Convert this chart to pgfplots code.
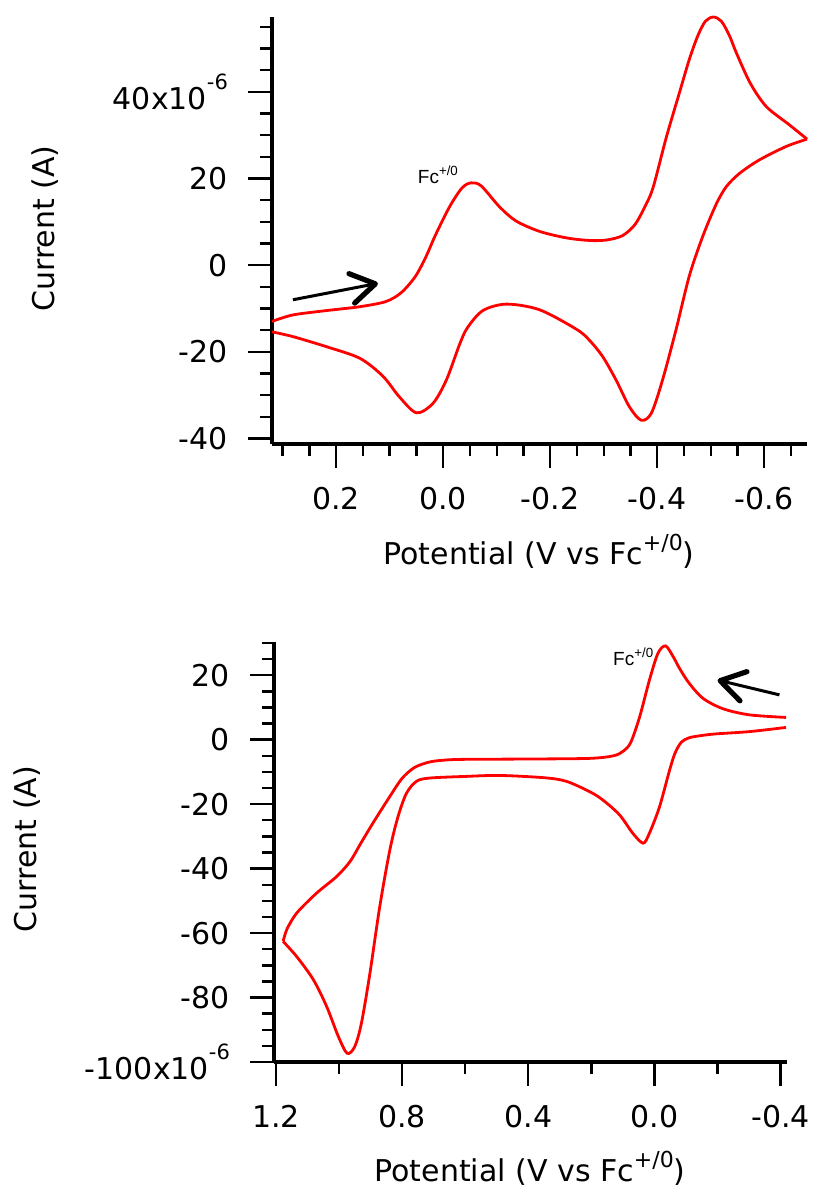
\documentclass[border=0pt]{standalone}
\usepackage{fontspec}
\setmainfont{DejaVu Sans}
\newfontfamily\fcfont{Liberation Sans}
\usepackage{pgfplots}
\pgfplotsset{compat=1.18}
\usetikzlibrary{arrows.meta}
\definecolor{cvred}{RGB}{255,0,0}
\newcommand{\sexp}{\raisebox{10pt}{\fontsize{10.5}{12}\selectfont -6}}
\newcommand{\fcsup}{\raisebox{7pt}{\fontsize{11}{12}\selectfont +/0}}
\pgfplotsset{cvstyle/.style={
  scale only axis,
  axis x line*=bottom, axis y line*=left,
  x dir=reverse,
  tick align=outside,
  axis line style={line width=1.6pt,-},
  every tick/.style={black, line width=1.2pt},
  major tick length=12pt, minor tick length=6pt,
  tick label style={font=\fontsize{15}{18}\selectfont},
  xticklabel style={yshift=-6pt},
  yticklabel style={xshift=-6.5pt},
  clip=false,
}}
\begin{document}
\begin{tikzpicture}
\path[use as bounding box] (0,0) rectangle (407pt,-596pt);
% ---------------- top panel ----------------
\begin{axis}[cvstyle,
  at={(136pt,-222pt)}, anchor=south west,
  width=267.5pt, height=213.5pt,
  xmin=-0.68, xmax=0.32, ymin=-41.3, ymax=57.3,
  xtick={0.2,0,-0.2,-0.4,-0.6},
  xticklabels={0.2,0.0,-0.2,-0.4,-0.6},
  minor xtick={0.3,0.25,0.15,0.1,0.05,-0.05,-0.1,-0.15,-0.25,-0.3,-0.35,-0.45,-0.5,-0.55,-0.65},
  ytick={-40,-20,0,20,40},
  yticklabels={-40,-20,0,20,40x10\sexp},
  minor ytick={-35,-30,-25,-15,-10,-5,5,10,15,25,30,35,45,50,55},
]
\addplot[cvred, line width=1.4pt, smooth] coordinates {
(0.320,-13.0) (0.281,-11.5) (0.219,-10.5) (0.156,-9.6) (0.107,-8.4) (0.078,-6.3)
(0.052,-2.6) (0.032,2.0) (0.015,6.8) (-0.012,13.5) (-0.035,17.8) (-0.052,19.0)
(-0.071,18.3) (-0.105,13.5) (-0.136,10.2) (-0.180,7.8) (-0.230,6.3) (-0.273,5.7)
(-0.305,5.8) (-0.335,6.8) (-0.358,9.3) (-0.375,13.0) (-0.392,17.8) (-0.417,29.5)
(-0.442,40.0) (-0.460,47.5) (-0.476,53.0) (-0.490,56.3) (-0.505,57.3) (-0.520,56.3)
(-0.535,53.0) (-0.548,49.0) (-0.574,42.0) (-0.604,36.6) (-0.647,32.4) (-0.680,29.1)
};
\addplot[cvred, line width=1.4pt, smooth] coordinates {
(-0.680,29.1) (-0.641,27.4) (-0.591,24.3) (-0.554,21.2) (-0.529,18.1) (-0.510,14.0)
(-0.485,6.6) (-0.460,-2.5) (-0.435,-15.0) (-0.410,-26.5) (-0.389,-34.2) (-0.370,-35.8)
(-0.348,-32.7) (-0.323,-26.5) (-0.298,-21.1) (-0.273,-17.3) (-0.249,-14.8) (-0.180,-10.3)
(-0.118,-9.0) (-0.074,-10.5) (-0.045,-14.5) (-0.030,-18.5) (-0.006,-26.5) (0.019,-31.9)
(0.050,-34.1) (0.082,-30.4) (0.113,-25.6) (0.156,-21.5) (0.219,-18.8) (0.281,-16.5)
(0.320,-15.4)
};
\draw[line width=1.5pt, -{Straight Barb[length=12pt,width=15pt,line width=2.6pt,round]}]
  (axis cs:0.281,-8.0) -- (axis cs:0.122,-4.2);
\node[font=\fcfont\fontsize{9.5}{11}\selectfont] at (axis cs:0.009,20.8) {Fc\textsuperscript{+/0}};
\end{axis}
% ---------------- bottom panel ----------------
\begin{axis}[cvstyle,
  at={(137pt,-531pt)}, anchor=south west,
  width=256.5pt, height=210pt,
  xmin=-0.42, xmax=1.206, ymin=-100, ymax=30.3,
  xtick={1.2,0.8,0.4,0,-0.4},
  xticklabels={1.2,0.8,0.4,0.0,-0.4},
  minor xtick={1.0,0.6,0.2,-0.2},
  ytick={-100,-80,-60,-40,-20,0,20},
  yticklabels={-100x10\sexp,-80,-60,-40,-20,0,20},
  minor ytick={-95,-90,-85,-75,-70,-65,-55,-50,-45,-35,-30,-25,-15,-10,-5,5,10,15,25,30},
]
\addplot[cvred, line width=1.4pt, smooth] coordinates {
(-0.417,6.9) (-0.301,7.7) (-0.217,9.6) (-0.154,12.8) (-0.110,17.5) (-0.080,22.0)
(-0.059,25.8) (-0.035,29.1) (-0.011,26.8) (0.016,18.5) (0.047,7.1) (0.075,-0.8)
(0.098,-3.5) (0.130,-5.0) (0.206,-5.8) (0.40,-6.0) (0.60,-6.1) (0.66,-6.3)
(0.712,-6.9) (0.760,-8.6) (0.800,-12.0) (0.840,-17.8) (0.890,-25.5) (0.930,-32.0)
(0.965,-37.8) (1.008,-42.5) (1.071,-47.6) (1.134,-53.8) (1.165,-58.8) (1.177,-62.6)
};
\addplot[cvred, line width=1.4pt, smooth] coordinates {
(1.177,-62.6) (1.134,-67.3) (1.081,-74.5) (1.039,-82.8) (1.002,-92.1) (0.974,-97.3)
(0.950,-95.2) (0.929,-88.0) (0.902,-72.5) (0.871,-51.9) (0.839,-34.3) (0.813,-23.9)
(0.786,-16.6) (0.754,-12.9) (0.712,-11.9) (0.60,-11.4) (0.491,-11.1) (0.35,-11.8)
(0.280,-12.9) (0.206,-16.1) (0.164,-18.7) (0.111,-23.3) (0.069,-29.0) (0.036,-32.1)
(0.016,-29.0) (-0.016,-20.8) (-0.048,-9.4) (-0.065,-4.2) (-0.085,-0.8) (-0.110,0.6)
(-0.150,1.3) (-0.195,1.8) (-0.301,2.5) (-0.417,3.8)
};
\draw[line width=1.5pt, -{Straight Barb[length=12pt,width=15pt,line width=2.6pt,round]}]
  (axis cs:-0.396,13.9) -- (axis cs:-0.200,18.5);
\node[font=\fcfont\fontsize{9.5}{11}\selectfont] at (axis cs:0.066,25.7) {Fc\textsuperscript{+/0}};
\end{axis}
% ---------------- axis titles ----------------
\node[rotate=90, font=\fontsize{15}{18}\selectfont] at (22.5pt,-114.3pt) {Current (A)};
\node[anchor=base, font=\fontsize{15}{18}\selectfont] at (269.5pt,-282pt) {Potential (V vs Fc\fcsup)};
\node[rotate=90, font=\fontsize{15}{18}\selectfont] at (13.5pt,-424.5pt) {Current (A)};
\node[anchor=base, font=\fontsize{15}{18}\selectfont] at (265pt,-590.5pt) {Potential (V vs Fc\fcsup)};
\end{tikzpicture}
\end{document}
